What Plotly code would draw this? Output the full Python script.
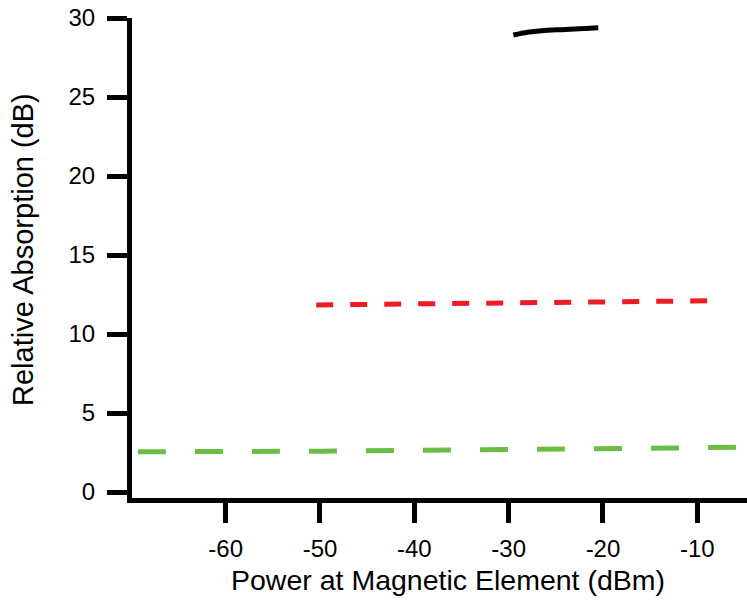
import plotly.graph_objects as go

# Data
black_x = [-29.5, -28.0, -26.5, -24.0, -22.0, -20.5]
black_y = [28.92, 29.10, 29.20, 29.27, 29.33, 29.39]

red_x = [-50.4, -42.3, -35.0, -24.2, -16.9, -8.8]
red_y = [11.84, 11.90, 11.98, 12.00, 12.04, 12.10]

green_x = [-69.3, -61.7, -55.7, -49.7, -40.0, -30.0, -25.6, -19.6, -13.6, -7.6, -5.0]
green_y = [2.55, 2.55, 2.55, 2.58, 2.64, 2.69, 2.70, 2.72, 2.74, 2.80, 2.83]

x_ticks = [-60, -50, -40, -30, -20, -10]
y_ticks = [0, 5, 10, 15, 20, 25, 30]

x_title = "Power at Magnetic Element (dBm)"
y_title = "Relative Absorption (dB)"

FONT = "Liberation Sans, Arial, sans-serif"

fig = go.Figure()
fig.add_trace(go.Scatter(x=green_x, y=green_y, mode="lines",
                         line=dict(color="#6cbd45", width=5, dash="28px,29px"),
                         showlegend=False))
fig.add_trace(go.Scatter(x=red_x, y=red_y, mode="lines",
                         line=dict(color="#ed1c24", width=5, dash="17px,17px"),
                         showlegend=False))
fig.add_trace(go.Scatter(x=black_x, y=black_y, mode="lines", line_shape="spline",
                         line=dict(color="black", width=5),
                         showlegend=False))

fig.update_layout(
    width=747, height=603,
    margin=dict(l=132, r=0, t=18, b=105),
    paper_bgcolor="white", plot_bgcolor="white",
    font=dict(family=FONT, size=24, color="black"),
    xaxis=dict(range=[-69.93, -4.73], tickvals=x_ticks, ticktext=[str(v) for v in x_ticks],
               showgrid=False, zeroline=False, showline=True, linecolor="black", linewidth=5,
               ticks="outside", ticklen=20, tickwidth=5, tickcolor="black",
               ticklabelstandoff=5, tickfont=dict(size=24)),
    yaxis=dict(range=[-0.38, 30], tickvals=y_ticks, ticktext=[str(v) for v in y_ticks],
               showgrid=False, zeroline=False, showline=True, linecolor="black", linewidth=5,
               ticks="outside", ticklen=20, tickwidth=5, tickcolor="black",
               ticklabelstandoff=7, tickfont=dict(size=24)),
    annotations=[
        dict(text=x_title, xref="paper", yref="paper", x=0.514, y=-0.171,
             xanchor="center", yanchor="middle", showarrow=False,
             font=dict(family=FONT, size=28.5, color="black")),
        dict(text=y_title, xref="paper", yref="paper", x=-0.177, y=0.517,
             xanchor="center", yanchor="middle", showarrow=False, textangle=-90,
             font=dict(family=FONT, size=29, color="black")),
    ],
)

fig.write_html("out.html", config={"displayModeBar": False},
               post_script="document.body.style.margin='0';document.body.style.overflow='hidden';")
